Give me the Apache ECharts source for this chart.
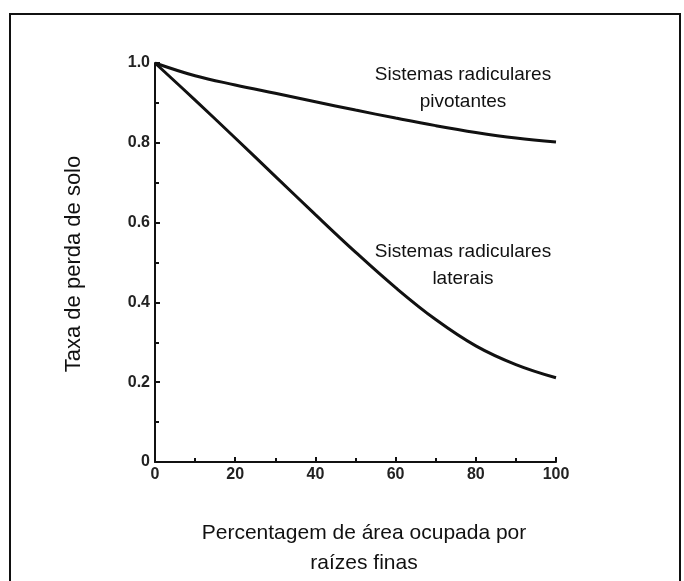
<!DOCTYPE html>
<html>
<head>
<meta charset="utf-8">
<script src="https://cdn.jsdelivr.net/npm/echarts@6/dist/echarts.min.js"></script>
<style>
html,body{margin:0;padding:0;background:#fff;}
#chart{width:684px;height:581px;}
</style>
</head>
<body>
<div id="chart"></div>
<script>
var xValues = [0, 10, 20, 30, 40, 50, 60, 70, 80, 90, 100];
var pivotantes = [1.0, 0.968, 0.945, 0.924, 0.903, 0.882, 0.862, 0.843, 0.826, 0.812, 0.802];
var laterais = [1.0, 0.907, 0.812, 0.716, 0.620, 0.526, 0.437, 0.357, 0.291, 0.244, 0.211];
var yTickLabels = {0: '0', 0.2: '0.2', 0.4: '0.4', 0.6: '0.6', 0.8: '0.8', 1: '1.0'};
var yTitle = 'Taxa de perda de solo';
var xTitle = 'Percentagem de área ocupada por\nraízes finas';
var label1 = 'Sistemas radiculares\npivotantes';
var label2 = 'Sistemas radiculares\nlaterais';

var font = '"Liberation Sans", Arial, sans-serif';
var chart = echarts.init(document.getElementById('chart'), null, {renderer: 'canvas'});
function pairs(xs, ys) { return xs.map(function (x, i) { return [x, ys[i]]; }); }

chart.setOption({
  animation: false,
  backgroundColor: '#fff',
  grid: {left: 155, right: 128, top: 63, bottom: 119},
  xAxis: {
    type: 'value', min: 0, max: 100, interval: 20,
    axisLine: {lineStyle: {color: '#111', width: 2}},
    axisTick: {show: true, inside: true, length: 5, lineStyle: {color: '#111', width: 2}},
    minorTick: {show: true, splitNumber: 2, length: 4, lineStyle: {color: '#111', width: 2}},
    splitLine: {show: false},
    axisLabel: {color: '#222', fontSize: 16, fontWeight: 'bold', fontFamily: font, margin: 5}
  },
  yAxis: {
    type: 'value', min: 0, max: 1, interval: 0.2,
    axisLine: {lineStyle: {color: '#111', width: 2}},
    axisTick: {show: true, inside: true, length: 5, lineStyle: {color: '#111', width: 2}},
    minorTick: {show: true, splitNumber: 2, length: 4, lineStyle: {color: '#111', width: 2}},
    splitLine: {show: false},
    axisLabel: {color: '#222', fontSize: 16, fontWeight: 'bold', fontFamily: font, margin: 5,
      formatter: function (v) { var k = Math.round(v * 10) / 10; return yTickLabels[k] !== undefined ? yTickLabels[k] : ''; }}
  },
  series: [
    {type: 'line', data: pairs(xValues, pivotantes), smooth: 0.4, showSymbol: false,
     lineStyle: {color: '#111', width: 3}},
    {type: 'line', data: pairs(xValues, laterais), smooth: 0.4, showSymbol: false,
     lineStyle: {color: '#111', width: 3}}
  ],
  graphic: [
    {type: 'rect', shape: {x: 10, y: 14, width: 670, height: 620},
     style: {fill: 'none', stroke: '#111', lineWidth: 2}, z: 100},
    {type: 'text', x: 463, y: 88, style: {text: label1, font: '19px ' + font, fill: '#111',
      align: 'center', verticalAlign: 'middle', lineHeight: 27}},
    {type: 'text', x: 463, y: 265, style: {text: label2, font: '19px ' + font, fill: '#111',
      align: 'center', verticalAlign: 'middle', lineHeight: 27}},
    {type: 'text', x: 364, y: 548, style: {text: xTitle, font: '21px ' + font, fill: '#111',
      align: 'center', verticalAlign: 'middle', lineHeight: 30}},
    {type: 'text', x: 74, y: 264, rotation: Math.PI / 2, style: {text: yTitle, font: '22px ' + font,
      fill: '#111', align: 'center', verticalAlign: 'middle'}}
  ]
});
</script>
</body>
</html>
